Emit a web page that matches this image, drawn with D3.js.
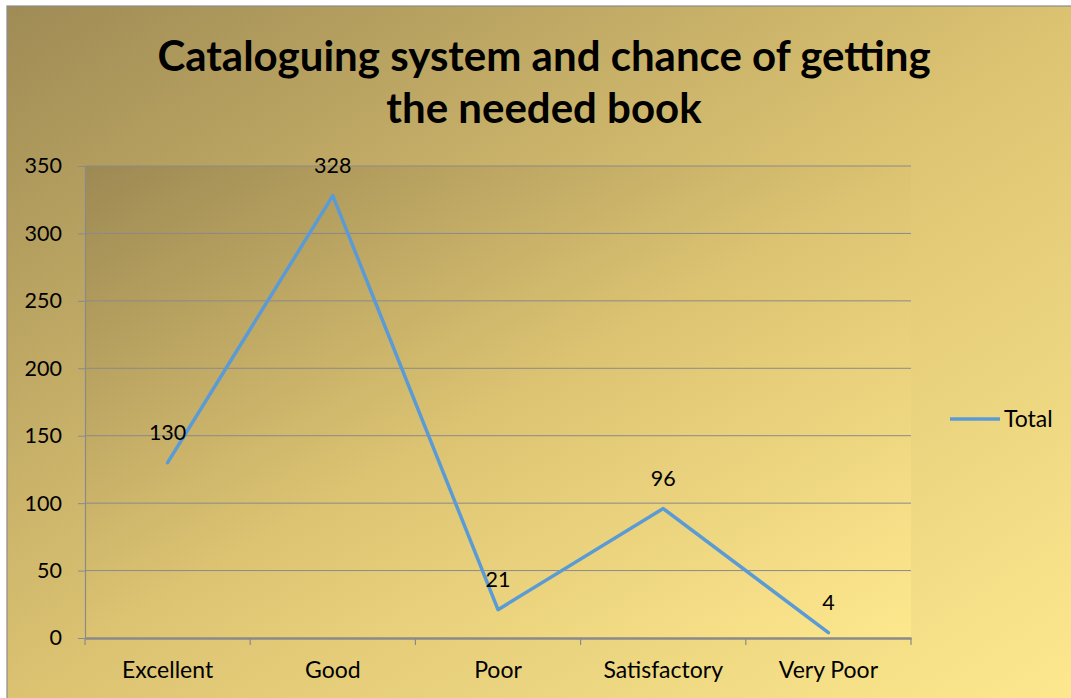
<!DOCTYPE html>
<html><head><meta charset="utf-8">
<script src="https://cdn.jsdelivr.net/npm/d3@7"></script>
<style>html,body{margin:0;padding:0;background:#fff;overflow:hidden}</style>
</head><body>
<svg id="c" width="1071" height="698"></svg>
<script>
const categories = ["Excellent", "Good", "Poor", "Satisfactory", "Very Poor"];
const totals = [130, 328, 21, 96, 4];
const yTicks = [0, 50, 100, 150, 200, 250, 300, 350];
const titleLines = ["Cataloguing system and chance of getting", "the needed book"];
const seriesName = "Total";

const svg = d3.select("#c");
const font = "Lato, 'Open Sans', sans-serif";
const defs = svg.append("defs");
function grad(id, stops) {
  const g = defs.append("linearGradient").attr("id", id)
    .attr("x1", "0%").attr("y1", "0%").attr("x2", "100%").attr("y2", "100%");
  stops.forEach(s => g.append("stop").attr("offset", s[0]).attr("stop-color", s[1]));
}
grad("bgOuter", [["0%", "#9f8b55"], ["50%", "#dcc372"], ["100%", "#fee98f"]]);
grad("bgPlot", [["0%", "#9d8953"], ["50%", "#dcc372"], ["100%", "#fee88e"]]);

// chart area
svg.append("rect").attr("x", 7).attr("y", 6).attr("width", 1080).attr("height", 700)
  .attr("fill", "url(#bgOuter)").attr("stroke", "#8c8c8c").attr("stroke-width", 1.2);

const m = {l: 85, r: 911, t: 166, b: 638};
const x = d3.scaleBand().domain(categories).range([m.l, m.r]);
const y = d3.scaleLinear().domain([0, 350]).range([m.b, m.t]);

svg.append("rect").attr("x", m.l).attr("y", m.t).attr("width", m.r - m.l).attr("height", m.b - m.t)
  .attr("fill", "url(#bgPlot)");

// gridlines
svg.append("g").selectAll("line").data(yTicks.filter(d => d > 0)).join("line")
  .attr("x1", m.l).attr("x2", m.r).attr("y1", d => y(d)).attr("y2", d => y(d))
  .attr("stroke", "#8a8a8a").attr("stroke-width", 1);

// y axis
const ya = svg.append("g").attr("transform", `translate(${m.l},0)`)
  .call(d3.axisLeft(y).tickValues(yTicks).tickSize(7).tickPadding(16));
ya.select(".domain").attr("stroke", "#8a8a8a").attr("stroke-width", 1.2);
ya.selectAll(".tick line").attr("stroke", "#8a8a8a");
ya.selectAll("text").attr("font-family", font).attr("font-size", 21.5).attr("fill", "#000");

// x axis
const xa = svg.append("g").attr("transform", `translate(0,${m.b})`)
  .call(d3.axisBottom(x).tickSize(0).tickPadding(24));
xa.select(".domain").attr("stroke", "#8a8a8a").attr("stroke-width", 2.5);
xa.selectAll("text").attr("font-family", font).attr("font-size", 23).attr("fill", "#000");
const bounds = categories.map(c => x(c)).concat([m.r]);
svg.append("g").selectAll("line").data(bounds).join("line")
  .attr("x1", d => d).attr("x2", d => d).attr("y1", m.b).attr("y2", m.b + 7)
  .attr("stroke", "#8a8a8a").attr("stroke-width", 1.2);

// line
const pts = categories.map((c, i) => [x(c) + x.bandwidth() / 2, y(totals[i])]);
svg.append("path").datum(pts).attr("d", d3.line())
  .attr("fill", "none").attr("stroke", "#5b9bd5").attr("stroke-width", 3.5)
  .attr("stroke-linejoin", "round").attr("stroke-linecap", "round");

// data labels
svg.append("g").selectAll("text").data(totals).join("text")
  .attr("x", (d, i) => pts[i][0]).attr("y", (d, i) => pts[i][1] - 23)
  .attr("text-anchor", "middle").attr("font-family", font).attr("font-size", 21.5)
  .attr("fill", "#000").text(d => d);

// title
svg.append("g").selectAll("text").data(titleLines).join("text")
  .attr("x", 544).attr("y", (d, i) => 71 + i * 52)
  .attr("text-anchor", "middle").attr("font-family", font).attr("font-weight", "bold")
  .attr("font-size", 42).attr("fill", "#000").text(d => d);

// legend
svg.append("line").attr("x1", 950).attr("x2", 1000).attr("y1", 419).attr("y2", 419)
  .attr("stroke", "#5b9bd5").attr("stroke-width", 3.5);
svg.append("text").attr("x", 1004).attr("y", 427).attr("font-family", font)
  .attr("font-size", 23).attr("fill", "#000").text(seriesName);
</script>
</body></html>
